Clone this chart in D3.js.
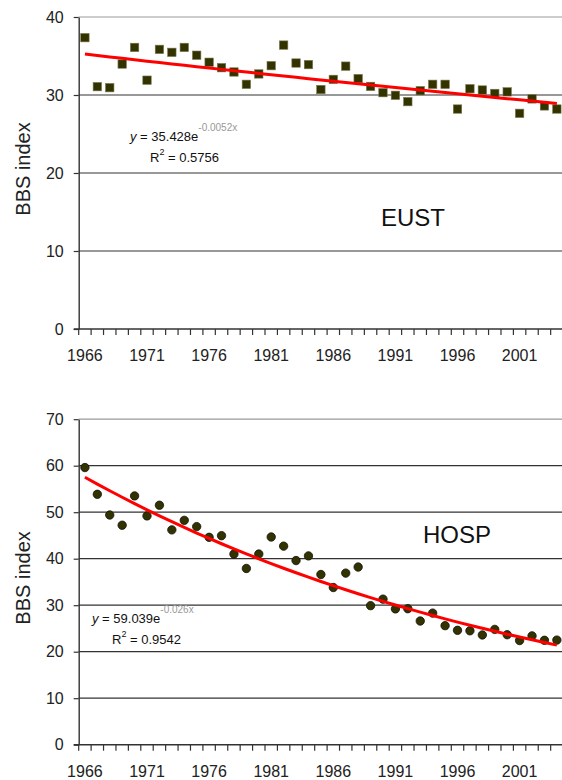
<!DOCTYPE html>
<html>
<head>
<meta charset="utf-8">
<script src="https://cdnjs.cloudflare.com/ajax/libs/d3/7.8.5/d3.min.js"></script>
<style>
  body { margin: 0; background: #fff; }
  svg { display: block; font-family: "Liberation Sans", Arial, sans-serif; }
</style>
</head>
<body>
<div id="chart"></div>
<script>
const years = [1966, 1967, 1968, 1969, 1970, 1971, 1972, 1973, 1974, 1975,
  1976, 1977, 1978, 1979, 1980, 1981, 1982, 1983, 1984, 1985,
  1986, 1987, 1988, 1989, 1990, 1991, 1992, 1993, 1994, 1995,
  1996, 1997, 1998, 1999, 2000, 2001, 2002, 2003, 2004];
const yearLabels = [1966, 1971, 1976, 1981, 1986, 1991, 1996, 2001];

const eustValues = [37.35, 31.07, 30.94, 33.97, 36.1, 31.9, 35.85, 35.47, 36.1, 35.1,
  34.2, 33.5, 32.95, 31.37, 32.7, 33.76, 36.4, 34.1, 33.9, 30.7,
  32.0, 33.7, 32.1, 31.1, 30.3, 29.96, 29.15, 30.55, 31.37, 31.37,
  28.2, 30.8, 30.64, 30.2, 30.4, 27.65, 29.5, 28.6, 28.2];
const hospValues = [59.6, 53.85, 49.4, 47.2, 53.5, 49.2, 51.5, 46.2, 48.25, 46.9,
  44.6, 44.95, 41.0, 37.9, 41.0, 44.67, 42.7, 39.6, 40.6, 36.6,
  33.8, 36.9, 38.2, 29.9, 31.3, 29.2, 29.25, 26.6, 28.3, 25.6,
  24.6, 24.5, 23.6, 24.8, 23.65, 22.4, 23.4, 22.45, 22.5];

const eustTicks = [0, 10, 20, 30, 40];
const hospTicks = [0, 10, 20, 30, 40, 50, 60, 70];

// exponential trendlines as printed on the chart: y = a * e^(b * x), x = 1..n
const eustFit = { a: 35.428, b: -0.0052, coef: "35.428", exp: "-0.0052x", r2: "0.5756" };
const hospFit = { a: 59.039, b: -0.026, coef: "59.039", exp: "-0.026x", r2: "0.9542" };

const width = 562;
const height = 780;
const axisX = 78.7;
const step = 12.42;

const svg = d3.select("#chart")
  .append("svg")
  .attr("width", width)
  .attr("height", height);

const x = d3.scaleBand()
  .domain(years)
  .range([axisX, axisX + years.length * step]);

function drawPanel(p) {
  const y = d3.scaleLinear()
    .domain([0, d3.max(p.ticks)])
    .range([p.bottom, p.top]);
  const g = svg.append("g");

  // gridlines
  g.selectAll(".grid")
    .data(p.ticks.filter((d) => d > 0))
    .enter()
    .append("line")
    .attr("x1", axisX)
    .attr("x2", width)
    .attr("y1", (d) => y(d))
    .attr("y2", (d) => y(d))
    .attr("stroke", (d) => (d === d3.max(p.ticks) ? "#9a9a9a" : "#333"))
    .attr("stroke-width", 1.2);

  // y axis
  const yAxis = g.append("g")
    .attr("transform", `translate(${axisX},0)`)
    .call(d3.axisLeft(y).tickValues(p.ticks).tickSize(5).tickSizeOuter(0).tickPadding(10));
  yAxis.select(".domain").attr("stroke", "#333").attr("stroke-width", 1.4);
  yAxis.selectAll(".tick line").attr("stroke", "#333").attr("stroke-width", 1.2);
  yAxis.selectAll("text").attr("font-size", 16).attr("font-family", "Liberation Sans, Arial, sans-serif").attr("fill", "#222");

  // x axis
  const xAxis = g.append("g")
    .attr("transform", `translate(0,${p.bottom})`)
    .call(d3.axisBottom(x).tickValues(yearLabels).tickSize(0).tickPadding(20.5));
  xAxis.select(".domain").remove();
  xAxis.selectAll("text").attr("font-size", 16).attr("font-family", "Liberation Sans, Arial, sans-serif").attr("fill", "#222");
  xAxis.append("line")
    .attr("x1", axisX - 5)
    .attr("x2", width)
    .attr("stroke", "#333")
    .attr("stroke-width", 1.4);
  xAxis.selectAll(".xtick")
    .data(years.concat(["end"]))
    .enter()
    .append("line")
    .attr("x1", (d, i) => axisX + i * x.bandwidth())
    .attr("x2", (d, i) => axisX + i * x.bandwidth())
    .attr("y1", 0)
    .attr("y2", 6)
    .attr("stroke", "#333")
    .attr("stroke-width", 1.2);

  // axis title
  g.append("text")
    .attr("transform", `translate(30,${(p.top + p.bottom) / 2 - 4}) rotate(-90)`)
    .attr("text-anchor", "middle")
    .attr("font-size", 20)
    .attr("fill", "#222")
    .text("BBS index");

  // markers
  const cx = (i) => x(years[i]) + x.bandwidth() / 2;
  if (p.marker === "square") {
    g.selectAll(".pt")
      .data(p.values)
      .enter()
      .append("rect")
      .attr("x", (d, i) => cx(i) - 4.2)
      .attr("y", (d) => y(d) - 4.2)
      .attr("width", 8.4)
      .attr("height", 8.4)
      .attr("fill", "#333300")
      .attr("stroke", "#77774d")
      .attr("stroke-width", 0.6);
  } else {
    g.selectAll(".pt")
      .data(p.values)
      .enter()
      .append("circle")
      .attr("cx", (d, i) => cx(i))
      .attr("cy", (d) => y(d))
      .attr("r", 4.2)
      .attr("fill", "#333300")
      .attr("stroke", "#111")
      .attr("stroke-width", 0.8);
  }

  // trendline
  const fitLine = d3.line()
    .x((d, i) => cx(i))
    .y((d, i) => y(p.fit.a * Math.exp(p.fit.b * (i + 1))));
  g.append("path")
    .datum(years)
    .attr("d", fitLine)
    .attr("fill", "none")
    .attr("stroke", "#ff0000")
    .attr("stroke-width", 3);

  // equation
  const eq = g.append("text")
    .attr("x", p.eqX)
    .attr("y", p.eqY)
    .attr("font-size", 13)
    .attr("fill", "#111");
  eq.append("tspan").attr("font-style", "italic").text("y");
  eq.append("tspan").text(` = ${p.fit.coef}e`);
  eq.append("tspan")
    .attr("dy", -10)
    .attr("font-size", 10)
    .attr("fill", "#999")
    .text(p.fit.exp);

  const r2 = g.append("text")
    .attr("x", p.eqX + 20)
    .attr("y", p.eqY + 21)
    .attr("font-size", 13)
    .attr("fill", "#111");
  r2.append("tspan").text("R");
  r2.append("tspan").attr("dy", -7).attr("font-size", 9).text("2");
  r2.append("tspan").attr("dy", 7).text(` = ${p.fit.r2}`);

  // species label
  g.append("text")
    .attr("x", p.labelX)
    .attr("y", p.labelY)
    .attr("font-size", 24)
    .attr("fill", "#111")
    .text(p.label);
}

drawPanel({
  top: 17, bottom: 329, ticks: eustTicks, values: eustValues, fit: eustFit,
  marker: "square", label: "EUST", labelX: 381, labelY: 226, eqX: 130, eqY: 141
});

drawPanel({
  top: 419.2, bottom: 744.7, ticks: hospTicks, values: hospValues, fit: hospFit,
  marker: "circle", label: "HOSP", labelX: 423, labelY: 543, eqX: 92, eqY: 623
});
</script>
</body>
</html>
